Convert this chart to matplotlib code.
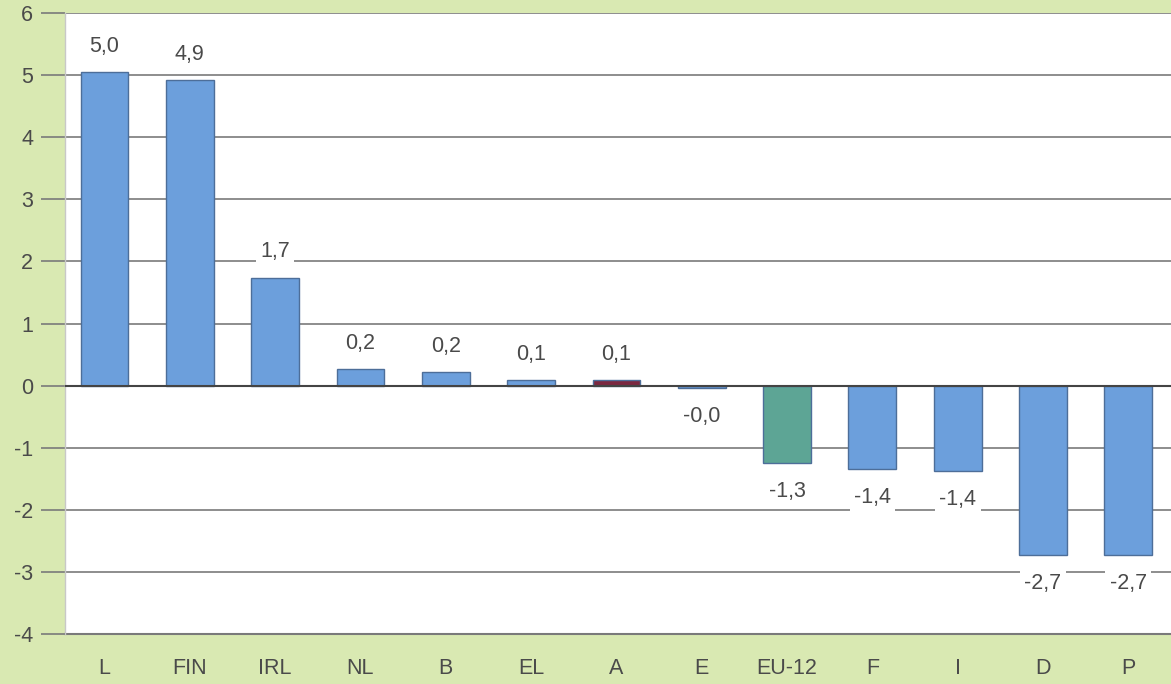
import matplotlib
matplotlib.use("Agg")
import matplotlib.pyplot as plt

categories = ["L", "FIN", "IRL", "NL", "B", "EL", "A", "E", "EU-12", "F", "I", "D", "P"]
values = [5.05, 4.92, 1.74, 0.26, 0.22, 0.09, 0.09, -0.04, -1.24, -1.34, -1.38, -2.73, -2.73]
labels = ["5,0", "4,9", "1,7", "0,2", "0,2", "0,1", "0,1", "-0,0", "-1,3", "-1,4", "-1,4", "-2,7", "-2,7"]
yticks = [-4, -3, -2, -1, 0, 1, 2, 3, 4, 5, 6]

blue = "#6c9fdc"
colors = [blue] * len(categories)
colors[categories.index("A")] = "#7b2840"
colors[categories.index("EU-12")] = "#5da595"

plt.rcParams['font.family'] = ['Liberation Sans', 'DejaVu Sans']
bg = "#d9e9b2"
fig = plt.figure(figsize=(11.71, 6.84), dpi=100, facecolor=bg)
ax = fig.add_axes([65/1171, 50/684, 1 - 65/1171, (634-13)/684])
ax.set_facecolor("white")

x = list(range(len(categories)))
ax.set_ylim(-4, 6)
ax.set_xlim(-0.463, 12.5)
ax.set_yticks(yticks)
ax.set_yticklabels([str(t) for t in yticks])
ax.yaxis.grid(True, color="#7a7a7a", linewidth=1.2, zorder=0)
ax.set_axisbelow(True)
ax.axhline(-4, color="#7a7a7a", linewidth=1.5, clip_on=False, zorder=1)

ax.bar(x, values, width=0.56, color=colors, edgecolor="#4d6e99", linewidth=1.0, zorder=3)
ax.axhline(0, color="#444444", linewidth=1.5, zorder=4)

for xi, v, lab in zip(x, values, labels):
    if v >= 0:
        ax.annotate(lab, (xi, v), xytext=(0, 11), textcoords="offset points",
                    ha="center", va="bottom", fontsize=15.5, color="#4a4a4a",
                    bbox=dict(boxstyle="square,pad=0.2", fc="white", ec="none"), zorder=5)
    else:
        ax.annotate(lab, (xi, v), xytext=(0, -13), textcoords="offset points",
                    ha="center", va="top", fontsize=15.5, color="#4a4a4a",
                    bbox=dict(boxstyle="square,pad=0.2", fc="white", ec="none"), zorder=5)

ax.set_xticks(x)
ax.set_xticklabels(categories)
ax.tick_params(axis="x", length=0, labelsize=15.5, labelcolor="#4a4a4a", pad=17)
ax.tick_params(axis="y", length=17, width=1.2, color="#7a7a7a", labelsize=15.5,
               labelcolor="#4a4a4a", pad=6)
for s in ["top", "right", "bottom"]:
    ax.spines[s].set_visible(False)
ax.spines["left"].set_color("#c8c8c8")
ax.spines["left"].set_linewidth(1.0)

fig.savefig("out.png", dpi=100, facecolor=bg)
